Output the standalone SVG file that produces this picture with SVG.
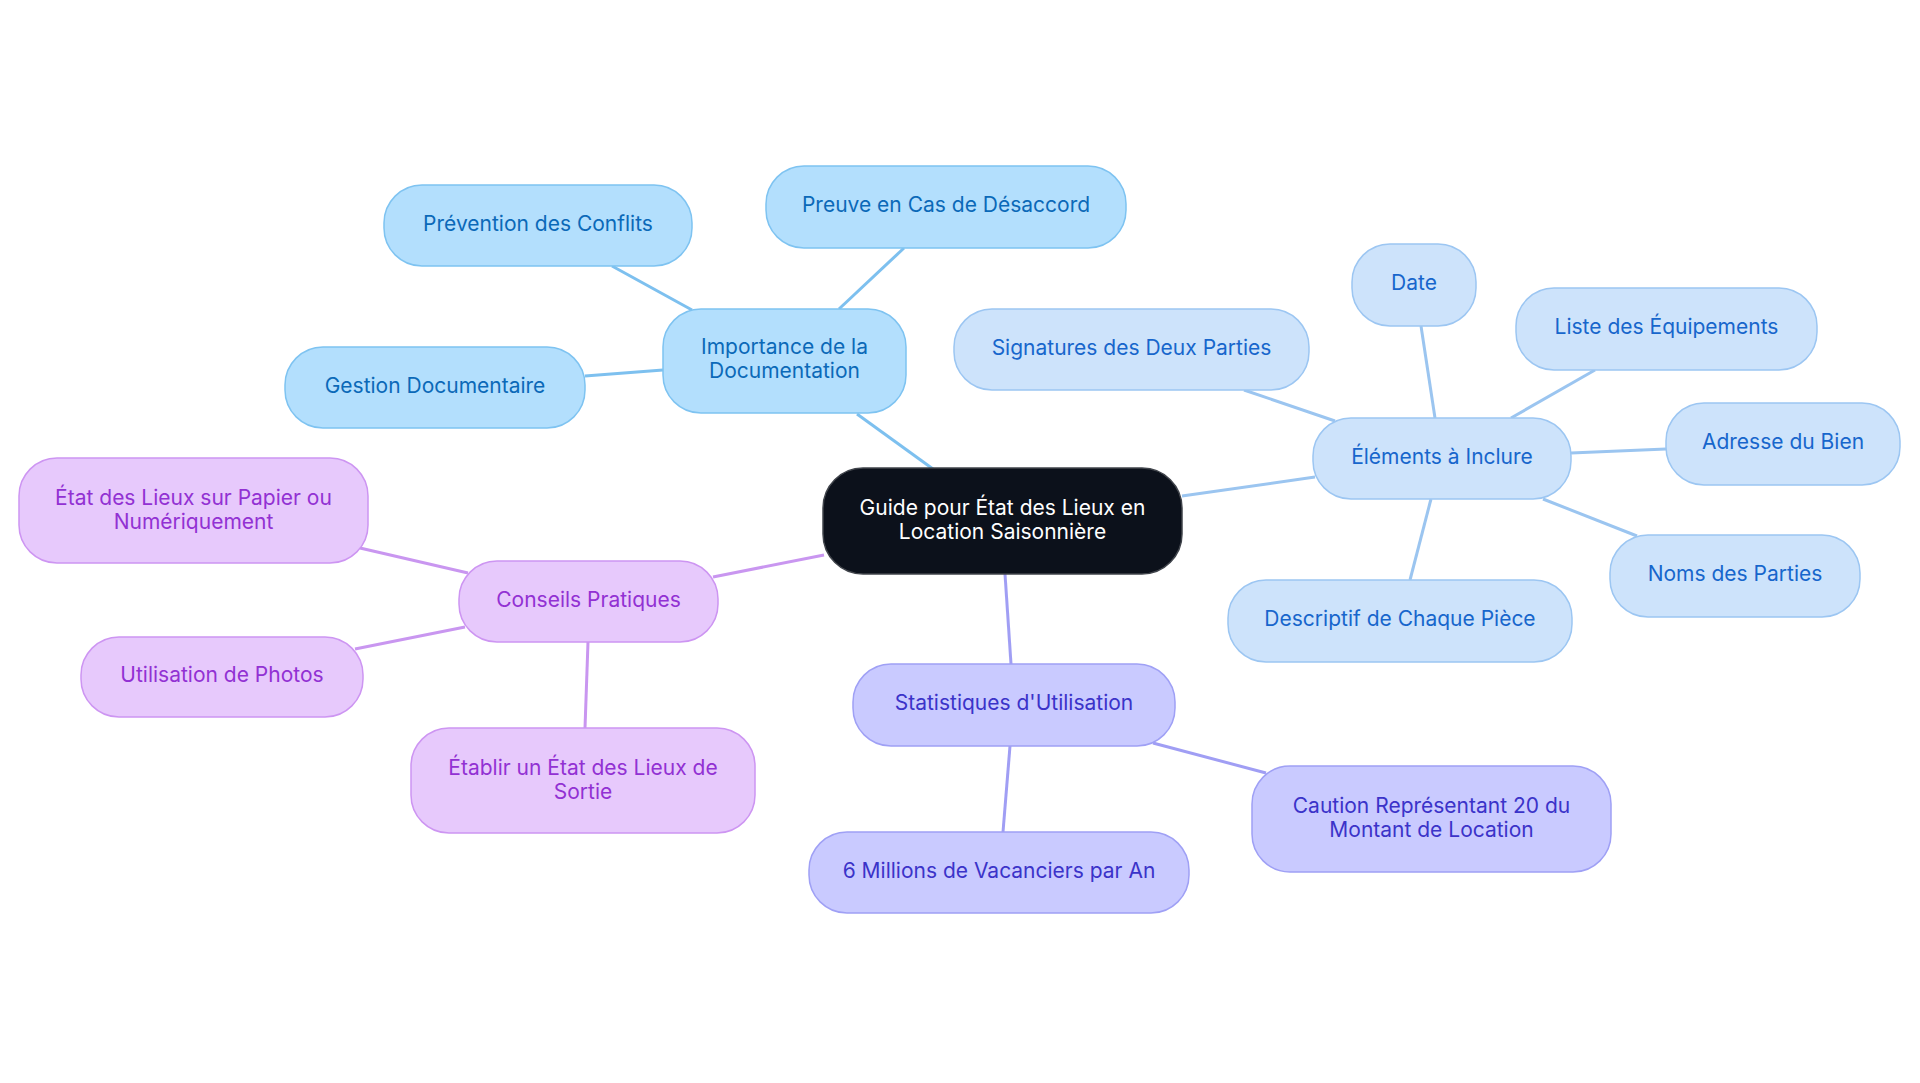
<svg xmlns="http://www.w3.org/2000/svg" width="1920" height="1083" viewBox="0 0 1920 1083">
<style>
text{font-family:Inter,"Noto Sans","Liberation Sans",sans-serif;font-size:21px;text-anchor:middle}
.b1 rect{fill:#b3dffd;stroke:#7ec3f1;stroke-width:1.5}
.b1 text{fill:#0b69b8}
.b2 rect{fill:#cde3fb;stroke:#9cc6f2;stroke-width:1.5}
.b2 text{fill:#1766cc}
.p rect{fill:#e7c9fc;stroke:#cd95f2;stroke-width:1.5}
.p text{fill:#9231d3}
.i rect{fill:#c9caff;stroke:#9fa0f5;stroke-width:1.5}
.i text{fill:#3b33c9}
.c rect{fill:#0c111b;stroke:#40444b;stroke-width:1.5}
.c text{fill:#ffffff}
#connectors line{stroke-width:3;fill:none}
.e1{stroke:#7dc0ef}
.e2{stroke:#9bc5f0}
.ep{stroke:#c996f0}
.ei{stroke:#a09ef4}
</style>
<rect width="1920" height="1083" fill="#ffffff"/>
<g id="connectors">
<line class="e1" x1="933" y1="469" x2="857" y2="414"/>
<line class="e1" x1="692" y1="310" x2="612" y2="266"/>
<line class="e1" x1="839" y1="309" x2="904" y2="248"/>
<line class="e1" x1="663" y1="370" x2="585" y2="376"/>
<line class="e2" x1="1182" y1="496" x2="1315" y2="477"/>
<line class="e2" x1="1335" y1="421" x2="1244" y2="390"/>
<line class="e2" x1="1435" y1="418" x2="1421" y2="326"/>
<line class="e2" x1="1511" y1="418" x2="1595" y2="370"/>
<line class="e2" x1="1571" y1="453" x2="1666" y2="449"/>
<line class="e2" x1="1543" y1="499" x2="1637" y2="536"/>
<line class="e2" x1="1431" y1="499" x2="1410" y2="580"/>
<line class="ep" x1="824" y1="555" x2="713" y2="577"/>
<line class="ep" x1="468" y1="573" x2="360" y2="548"/>
<line class="ep" x1="465" y1="627" x2="355" y2="649"/>
<line class="ep" x1="588" y1="642" x2="585" y2="728"/>
<line class="ei" x1="1005" y1="574" x2="1011" y2="664"/>
<line class="ei" x1="1010" y1="746" x2="1003" y2="832"/>
<line class="ei" x1="1153" y1="743" x2="1266" y2="773"/>
</g>
<g id="central" class="c"><rect x="823" y="468" width="359" height="106" rx="40"/><text x="1002.5" y="515">Guide pour État des Lieux en</text><text x="1002.5" y="539">Location Saisonnière</text></g>
<g id="importance" class="b1"><rect x="663" y="309" width="243" height="104" rx="38"/><text x="784.5" y="354">Importance de la</text><text x="784.5" y="378">Documentation</text></g>
<g id="prevention" class="b1"><rect x="384" y="185" width="308" height="81" rx="38"/><text x="538" y="231">Prévention des Conflits</text></g>
<g id="preuve" class="b1"><rect x="766" y="166" width="360" height="82" rx="38"/><text x="946" y="212">Preuve en Cas de Désaccord</text></g>
<g id="gestion" class="b1"><rect x="285" y="347" width="300" height="81" rx="38"/><text x="435" y="393">Gestion Documentaire</text></g>
<g id="elements" class="b2"><rect x="1313" y="418" width="258" height="81" rx="38"/><text x="1442" y="464">Éléments à Inclure</text></g>
<g id="date" class="b2"><rect x="1352" y="244" width="124" height="82" rx="38"/><text x="1414" y="290">Date</text></g>
<g id="liste" class="b2"><rect x="1516" y="288" width="301" height="82" rx="38"/><text x="1666.5" y="334">Liste des Équipements</text></g>
<g id="signatures" class="b2"><rect x="954" y="309" width="355" height="81" rx="38"/><text x="1131.5" y="355">Signatures des Deux Parties</text></g>
<g id="adresse" class="b2"><rect x="1666" y="403" width="234" height="82" rx="38"/><text x="1783" y="449">Adresse du Bien</text></g>
<g id="noms" class="b2"><rect x="1610" y="535" width="250" height="82" rx="38"/><text x="1735" y="581">Noms des Parties</text></g>
<g id="descriptif" class="b2"><rect x="1228" y="580" width="344" height="82" rx="38"/><text x="1400" y="626">Descriptif de Chaque Pièce</text></g>
<g id="conseils" class="p"><rect x="459" y="561" width="259" height="81" rx="38"/><text x="588.5" y="607">Conseils Pratiques</text></g>
<g id="etat" class="p"><rect x="19" y="458" width="349" height="105" rx="38"/><text x="193.5" y="504.5">État des Lieux sur Papier ou</text><text x="193.5" y="528.5">Numériquement</text></g>
<g id="utilisation" class="p"><rect x="81" y="637" width="282" height="80" rx="38"/><text x="222" y="682">Utilisation de Photos</text></g>
<g id="etablir" class="p"><rect x="411" y="728" width="344" height="105" rx="38"/><text x="583" y="774.5">Établir un État des Lieux de</text><text x="583" y="798.5">Sortie</text></g>
<g id="statistiques" class="i"><rect x="853" y="664" width="322" height="82" rx="38"/><text x="1014" y="710">Statistiques d'Utilisation</text></g>
<g id="millions" class="i"><rect x="809" y="832" width="380" height="81" rx="38"/><text x="999" y="878">6 Millions de Vacanciers par An</text></g>
<g id="caution" class="i"><rect x="1252" y="766" width="359" height="106" rx="38"/><text x="1431.5" y="813">Caution Représentant 20 du</text><text x="1431.5" y="837">Montant de Location</text></g>
</svg>
